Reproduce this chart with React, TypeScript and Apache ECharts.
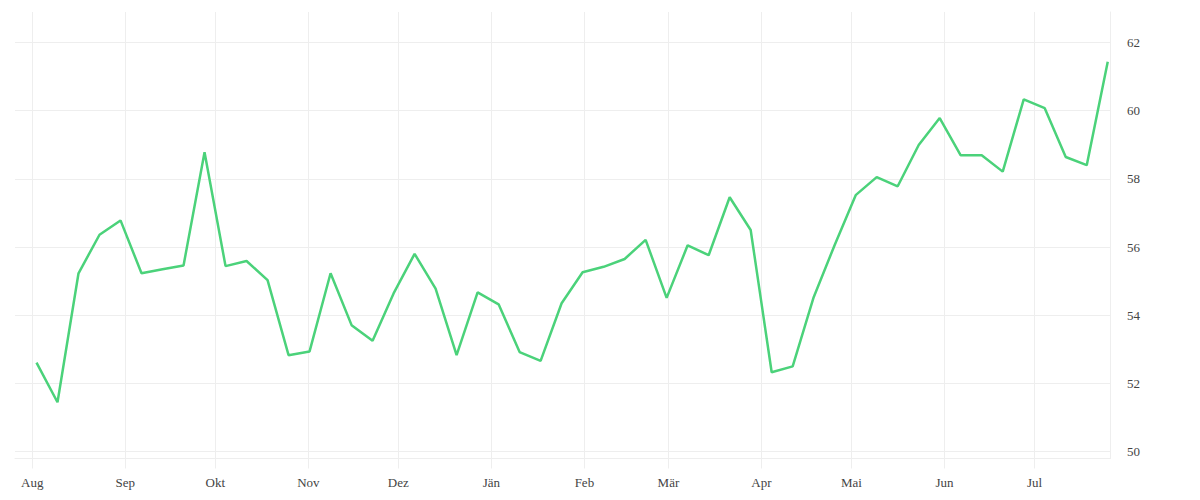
import React, { useEffect, useRef } from "react";
import * as echarts from "echarts";

// Weekly observations, Aug 2018 – Jul 2019
const startDate = [2018, 8, 2, 10]; // year, month (1-based), day, hour of first point
const values = [
  52.61, 51.45, 55.23, 56.36, 56.78, 55.23, 55.35, 55.46, 58.78, 55.44,
  55.59, 55.03, 52.83, 52.94, 55.23, 53.71, 53.25, 54.64, 55.8, 54.78,
  52.83, 54.67, 54.32, 52.92, 52.66, 54.35, 55.26, 55.42, 55.65, 56.21,
  54.51, 56.05, 55.76, 57.46, 56.5, 52.33, 52.5, 54.53, 56.06, 57.52,
  58.05, 57.78, 58.99, 59.78, 58.69, 58.69, 58.21, 60.33, 60.07, 58.64,
  58.4, 61.43,
];
const monthNames = ["Jän", "Feb", "Mär", "Apr", "Mai", "Jun", "Jul", "Aug", "Sep", "Okt", "Nov", "Dez"];
const monthTicks: [number, number][] = [
  [2018, 8], [2018, 9], [2018, 10], [2018, 11], [2018, 12],
  [2019, 1], [2019, 2], [2019, 3], [2019, 4], [2019, 5], [2019, 6], [2019, 7],
];
const yMin = 49.8;
const yMax = 62.89;

const DAY = 86400000;

export default function App() {
  const ref = useRef<HTMLDivElement>(null);
  useEffect(() => {
    if (!ref.current) return;
    const chart = echarts.init(ref.current, null, { renderer: "svg" });
    const t0 = Date.UTC(startDate[0], startDate[1] - 1, startDate[2], startDate[3]);
    const data = values.map((v, i) => [t0 + i * 7 * DAY, v]);
    const tickVals = monthTicks.map(([y, m]) => Date.UTC(y, m - 1, 1));
    const font = "'Liberation Serif', serif";
    chart.setOption({
      animation: false,
      grid: { left: 15, right: 90, top: 12, bottom: 41.5, containLabel: false },
      xAxis: {
        type: "value",
        min: Date.UTC(2018, 6, 26, 6),
        max: Date.UTC(2019, 6, 26, 4),
        axisLine: { show: true, lineStyle: { color: "#eeeeee", width: 1 } },
        axisTick: { show: true, length: 10, customValues: tickVals, lineStyle: { color: "#eeeeee" } },
        axisLabel: {
          customValues: tickVals,
          margin: 17,
          color: "#444",
          fontFamily: font,
          fontSize: 13,
          formatter: (v: number) => monthNames[new Date(v).getUTCMonth()],
        },
        splitLine: { show: true, lineStyle: { color: "#eeeeee", width: 1 } },
      },
      yAxis: {
        type: "value",
        position: "right",
        min: yMin,
        max: yMax,
        splitNumber: 6,
        axisLine: { show: true, lineStyle: { color: "#eeeeee", width: 1 } },
        axisTick: { show: false },
        axisLabel: {
          margin: 17,
          color: "#444",
          fontFamily: font,
          fontSize: 13,
          showMinLabel: false,
          showMaxLabel: false,
        },
        splitLine: { show: true, showMinLine: false, showMaxLine: false, lineStyle: { color: "#eeeeee", width: 1 } },
      },
      series: [
        {
          type: "line",
          data,
          showSymbol: false,
          symbol: "none",
          lineStyle: { color: "#4bd27a", width: 2.5 },
          itemStyle: { color: "#4bd27a" },
        },
      ],
    });
    return () => chart.dispose();
  }, []);
  return (
    <div
      ref={ref}
      style={{ position: "absolute", left: 0, top: 0, width: 1200, height: 500, background: "#fff" }}
    />
  );
}
